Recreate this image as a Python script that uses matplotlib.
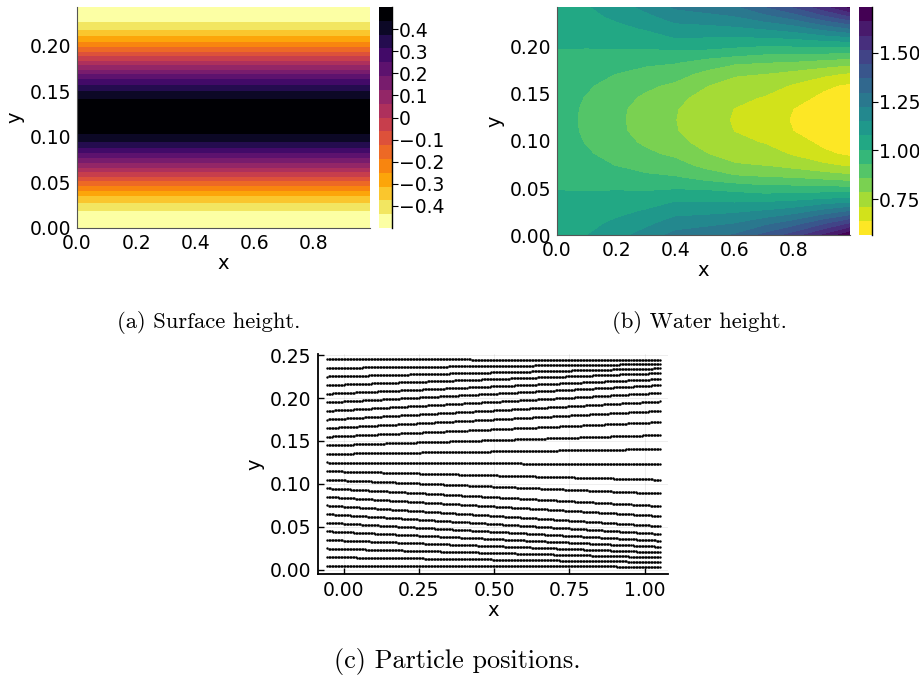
import numpy as np
import matplotlib.pyplot as plt
from matplotlib.ticker import FormatStrFormatter, FuncFormatter

# ---- (a) surface height, read along y (same for every x)
surface_x = [0.0, 1.0]
surface_y = [0.0, 0.01225, 0.0245, 0.03675, 0.049, 0.06125, 0.0735, 0.08575, 0.098, 0.11025,
             0.1225, 0.13475, 0.147, 0.15925, 0.1715, 0.18375, 0.196, 0.20825, 0.2205, 0.23275, 0.245]
surface_height = [-0.5, -0.476, -0.405, -0.294, -0.155, 0.0, 0.155, 0.294, 0.405, 0.476,
                  0.5, 0.476, 0.405, 0.294, 0.155, 0.0, -0.155, -0.294, -0.405, -0.476, -0.5]

# ---- (b) water height, rows bottom -> top (same y as surface_y), columns x = 0 .. 1
water_x = [0.0, 0.1, 0.2, 0.3, 0.4, 0.5, 0.6, 0.7, 0.8, 0.9, 1.0]
water_y = surface_y
water_height = [
    [1.048, 1.075, 1.12, 1.18, 1.245, 1.27, 1.30, 1.385, 1.47, 1.59, 1.73],
    [1.032, 1.058, 1.09, 1.13, 1.185, 1.2, 1.22, 1.27, 1.33, 1.42, 1.52],
    [1.025, 1.04, 1.06, 1.085, 1.125, 1.13, 1.14, 1.16, 1.19, 1.25, 1.31],
    [1.015, 1.02, 1.03, 1.04, 1.07, 1.065, 1.06, 1.06, 1.07, 1.09, 1.11],
    [1.003, 1.0, 1.0, 0.995, 1.0, 0.995, 0.98, 0.96, 0.96, 0.96, 0.95],
    [0.988, 0.975, 0.965, 0.945, 0.935, 0.90, 0.87, 0.86, 0.85, 0.83, 0.81],
    [0.975, 0.955, 0.93, 0.905, 0.885, 0.84, 0.795, 0.785, 0.76, 0.73, 0.70],
    [0.966, 0.94, 0.905, 0.872, 0.845, 0.79, 0.755, 0.745, 0.705, 0.655, 0.625],
    [0.962, 0.928, 0.885, 0.848, 0.805, 0.765, 0.73, 0.71, 0.67, 0.625, 0.59],
    [0.96, 0.921, 0.874, 0.833, 0.79, 0.75, 0.712, 0.675, 0.64, 0.605, 0.575],
    [0.96, 0.92, 0.872, 0.83, 0.787, 0.747, 0.706, 0.67, 0.635, 0.60, 0.57],
    [0.96, 0.921, 0.874, 0.833, 0.79, 0.75, 0.712, 0.675, 0.64, 0.605, 0.575],
    [0.962, 0.928, 0.885, 0.848, 0.805, 0.765, 0.73, 0.71, 0.67, 0.625, 0.59],
    [0.966, 0.94, 0.905, 0.872, 0.845, 0.79, 0.755, 0.745, 0.705, 0.655, 0.625],
    [0.975, 0.955, 0.93, 0.905, 0.885, 0.84, 0.795, 0.785, 0.76, 0.73, 0.70],
    [0.988, 0.975, 0.965, 0.945, 0.935, 0.90, 0.87, 0.86, 0.85, 0.83, 0.81],
    [1.003, 1.0, 1.0, 0.995, 1.0, 0.995, 0.98, 0.96, 0.96, 0.96, 0.95],
    [1.015, 1.02, 1.03, 1.04, 1.07, 1.065, 1.06, 1.06, 1.07, 1.09, 1.11],
    [1.025, 1.04, 1.06, 1.085, 1.125, 1.13, 1.14, 1.16, 1.19, 1.25, 1.31],
    [1.032, 1.058, 1.09, 1.13, 1.185, 1.2, 1.22, 1.27, 1.33, 1.42, 1.52],
    [1.038, 1.075, 1.12, 1.18, 1.245, 1.27, 1.30, 1.385, 1.47, 1.59, 1.73],
]

# ---- (c) particle rows: y at the left end and at the right end of each row
row_y_left = [0.005, 0.015, 0.025, 0.035, 0.045, 0.055, 0.065, 0.075, 0.085, 0.095, 0.105, 0.115, 0.125,
              0.135, 0.145, 0.155, 0.165, 0.175, 0.185, 0.195, 0.205, 0.215, 0.225, 0.235, 0.245]
row_y_right = [0.0039, 0.0093, 0.0147, 0.0205, 0.027, 0.034, 0.042, 0.051, 0.0628, 0.0744, 0.089, 0.105, 0.123,
               0.1407, 0.157, 0.172, 0.185, 0.196, 0.206, 0.215, 0.222, 0.229, 0.2345, 0.2395, 0.2445]
row_x_start, row_x_end, n_per_row = -0.055, 1.05, 222

FS = 13.5
cap_font = 'cmr10'

fig = plt.figure(figsize=(9.2, 6.81), dpi=100)


def style_map_axes(ax):
    for s in ['top', 'right']:
        ax.spines[s].set_visible(False)
    for s in ['left', 'bottom']:
        ax.spines[s].set_color('#555555')
        ax.spines[s].set_linewidth(0.8)
    ax.tick_params(length=0, labelsize=FS, pad=4)
    ax.xaxis.set_major_formatter(FormatStrFormatter('%.1f'))
    ax.yaxis.set_major_formatter(FormatStrFormatter('%.2f'))
    ax.set_xticks([0, 0.2, 0.4, 0.6, 0.8])
    ax.set_yticks([0, 0.05, 0.1, 0.15, 0.2])
    ax.set_xlim(0, 0.99)
    ax.set_ylim(0, 0.2425)
    ax.set_xlabel('x', fontsize=14, labelpad=1)
    ax.set_ylabel('y', fontsize=14, labelpad=4)


def style_cbar(cb):
    cb.outline.set_visible(False)
    cb.ax.plot([1, 1], [0, 1], transform=cb.ax.transAxes, color='k', lw=1.0, clip_on=False)
    cb.ax.tick_params(labelsize=FS, length=4, width=0.8, direction='out', pad=1)


# panel a
ax_a = fig.add_axes([0.0837, 0.6652, 0.3185, 0.3245])
Za = np.array(surface_height)[:, None] * np.ones((1, len(surface_x)))
levels_a = np.linspace(-0.5, 0.5, 17)
cmap_a = plt.get_cmap('inferno_r')
colors_a = [cmap_a(i / 15) for i in range(16)]
cfa = ax_a.contourf(surface_x, surface_y, Za, levels=levels_a, colors=colors_a, antialiased=False)
style_map_axes(ax_a)
cax_a = fig.add_axes([0.412, 0.6652, 0.0138, 0.3245])
cba = fig.colorbar(cfa, cax=cax_a)
cba.set_ticks([0.4, 0.3, 0.2, 0.1, 0.0, -0.1, -0.2, -0.3, -0.4])
cba.ax.yaxis.set_major_formatter(FuncFormatter(
    lambda v, p: '0' if abs(v) < 1e-9 else ('%.1f' % v).replace('-', '\u2212')))
style_cbar(cba)

# panel b
ax_b = fig.add_axes([0.6054, 0.6549, 0.3185, 0.3348])
levels_b = np.linspace(0.568, 1.733, 17)
cmap_b = plt.get_cmap('viridis_r')
colors_b = [cmap_b(i / 15) for i in range(16)]
cfb = ax_b.contourf(water_x, water_y, np.array(water_height), levels=levels_b, colors=colors_b,
                    antialiased=False)
style_map_axes(ax_b)
cax_b = fig.add_axes([0.9337, 0.6549, 0.0138, 0.3348])
cbb = fig.colorbar(cfb, cax=cax_b)
cbb.set_ticks([0.75, 1.0, 1.25, 1.5])
cbb.ax.yaxis.set_major_formatter(FormatStrFormatter('%.2f'))
style_cbar(cbb)

# panel c
ax_c = fig.add_axes([0.3457, 0.1571, 0.3804, 0.3231])
px = np.linspace(row_x_start, row_x_end, n_per_row)
for yl, yr in zip(row_y_left, row_y_right):
    py = np.linspace(yl, yr, n_per_row)
    ax_c.scatter(px, py, s=3.0, color='black', linewidths=0, zorder=3)
ax_c.set_xlim(-0.085, 1.078)
ax_c.set_ylim(-0.0047, 0.2512)
ax_c.set_xticks([0, 0.25, 0.5, 0.75, 1.0])
ax_c.set_yticks([0, 0.05, 0.1, 0.15, 0.2, 0.25])
ax_c.xaxis.set_major_formatter(FormatStrFormatter('%.2f'))
ax_c.yaxis.set_major_formatter(FormatStrFormatter('%.2f'))
ax_c.grid(True, color='#000000', alpha=0.08, lw=0.6)
for s in ['top', 'right']:
    ax_c.spines[s].set_visible(False)
for s in ['left', 'bottom']:
    ax_c.spines[s].set_linewidth(1.3)
ax_c.tick_params(direction='in', length=4, width=1.0, labelsize=FS, pad=5)
ax_c.set_xlabel('x', fontsize=14, labelpad=1)
ax_c.set_ylabel('y', fontsize=14, labelpad=4)

# captions
fig.text(0.227, 0.527, '(a) Surface height.', fontsize=16.3, family=cap_font, ha='center', va='center')
fig.text(0.760, 0.527, '(b) Water height.', fontsize=16.3, family=cap_font, ha='center', va='center')
fig.text(0.497, 0.028, '(c) Particle positions.', fontsize=18.9, family=cap_font, ha='center', va='center')

fig.savefig('out.png', dpi=100)
